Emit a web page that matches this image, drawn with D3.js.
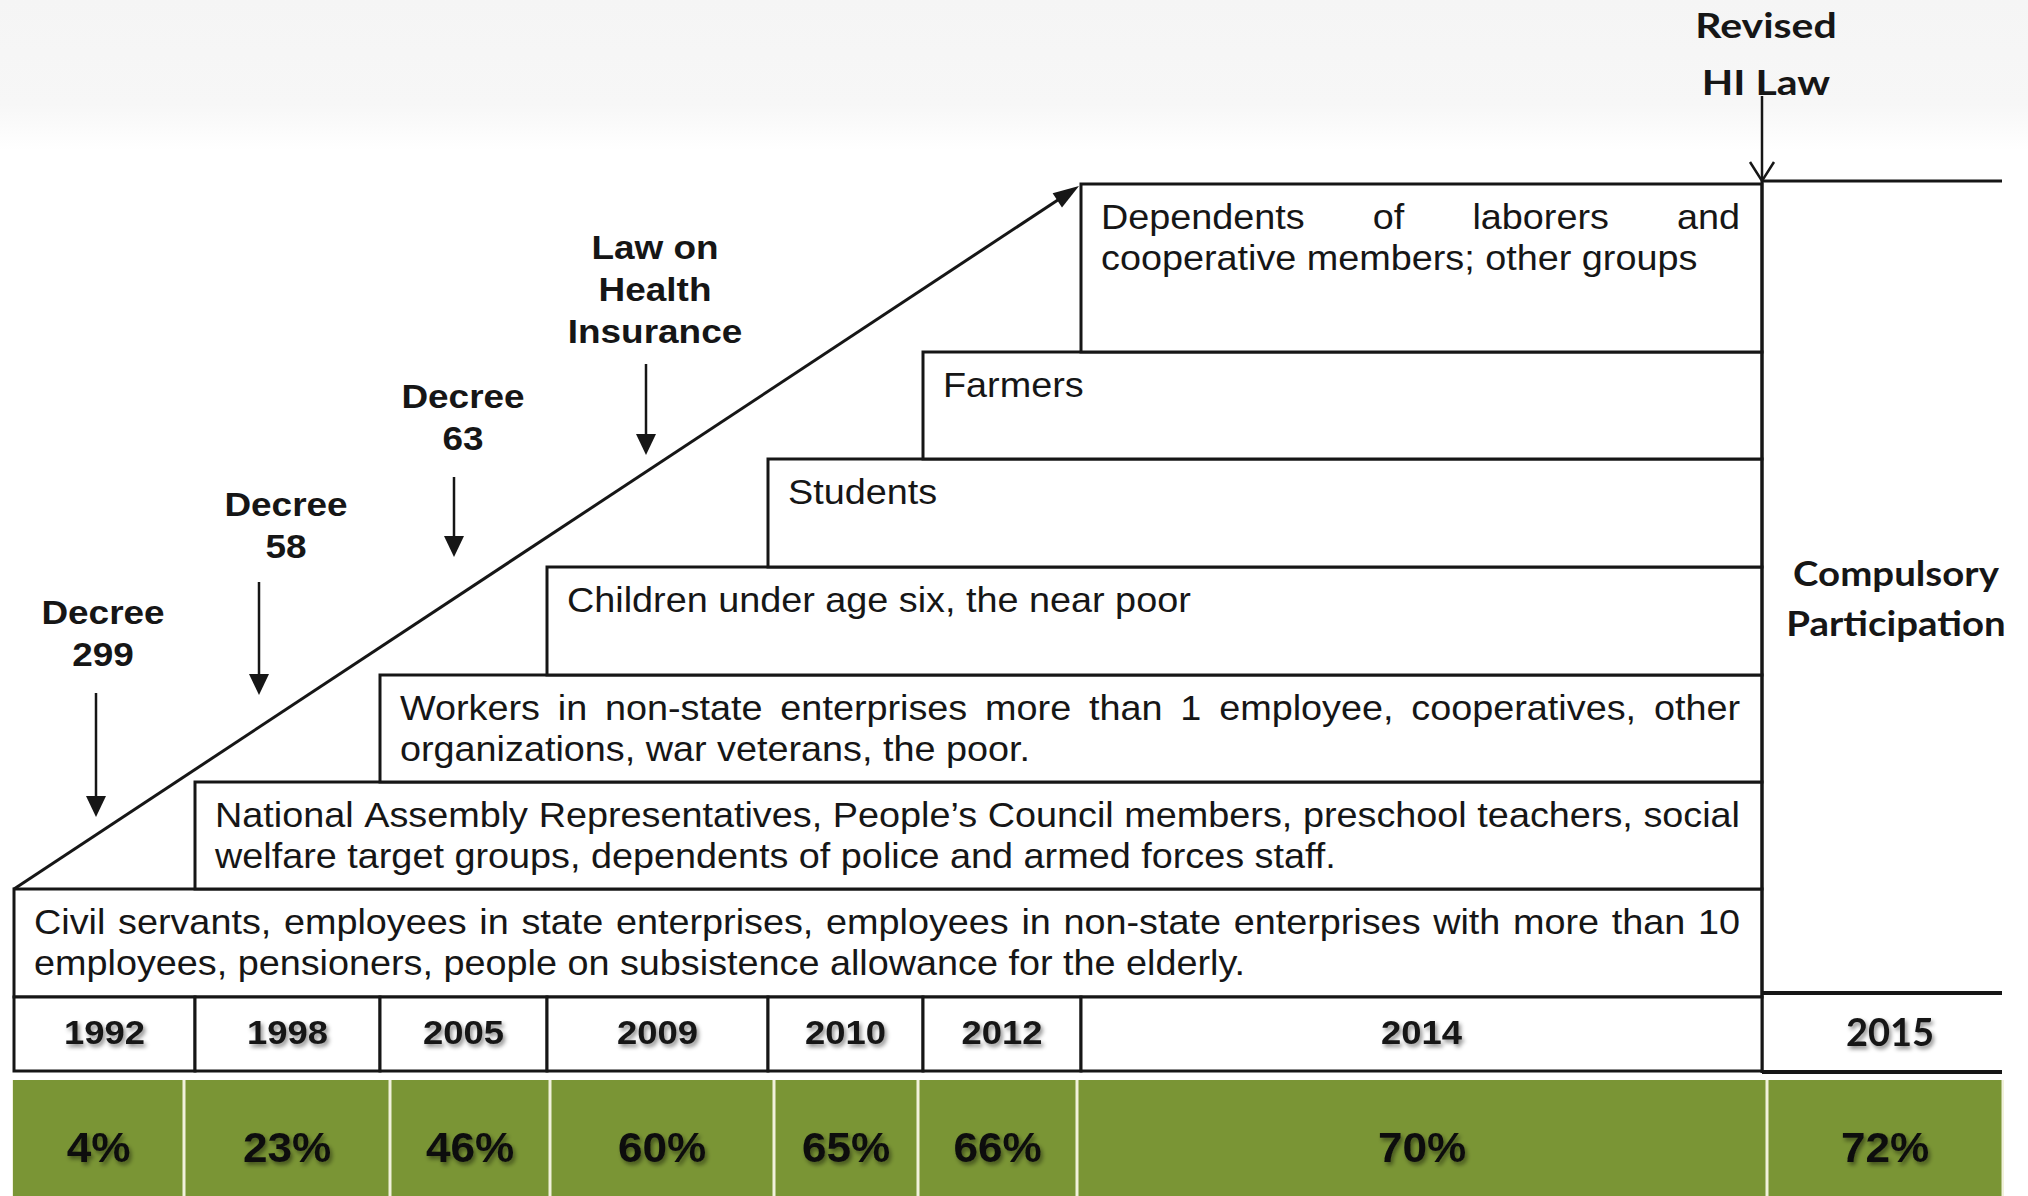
<!DOCTYPE html>
<html><head><meta charset="utf-8">
<script src="https://cdn.jsdelivr.net/npm/d3@7"></script>
<style>html,body{margin:0;padding:0;background:#fff;}svg{display:block}</style>
</head><body>
<svg id="chart" width="2028" height="1196"></svg>
<script>
// ---------------- DATA ----------------
const years = ["1992","1998","2005","2009","2010","2012","2014","2015"];
const coverage = [4,23,46,60,65,66,70,72];
const tierYears = ["1992","1998","2005","2009","2010","2012","2014"];
const tierLines = [
  ["Civil servants, employees in state enterprises, employees in non-state enterprises with more than 10",
   "employees, pensioners, people on subsistence allowance for the elderly."],
  ["National Assembly Representatives, People\u2019s Council members, preschool teachers, social",
   "welfare target groups, dependents of police and armed forces staff."],
  ["Workers in non-state enterprises more than 1 employee, cooperatives, other",
   "organizations, war veterans, the poor."],
  ["Children under age six, the near poor"],
  ["Students"],
  ["Farmers"],
  ["Dependents of laborers and",
   "cooperative members; other groups"]
];
const eventYears = ["1992","1998","2005","2009"];
const eventLabels = [["Decree","299"],["Decree","58"],["Decree","63"],["Law on","Health","Insurance"]];
const revisedLabel = ["Revised","HI Law"];
const compulsoryLabel = ["Compulsory","Participation"];

// ---------------- LAYOUT ----------------
const W = 2028, H = 1196;
const colX0 = 14, colWidths = [181,185,167,221,155,158,681,240];
const greenX0 = 13, greenWidths = [171,206,160,224,144,159,690,236];
const baseY = 997, tierHeights = [108,107,107,108,108,107,168];
const yearBottom = 1071, greenTop = 1080;
const eventLayout = [
  {dx:-1.5, base:624, arrowTop:693, tip:817, ax:-8.5},
  {dx:-1.5, base:516, arrowTop:582, tip:695, ax:-28.5},
  {dx:-0.5, base:408, arrowTop:477, tip:557, ax:-9.5},
  {dx:-2.5, base:259, arrowTop:364, tip:455, ax:-11.5}
];
const ARIAL = "'Liberation Sans', Arial, sans-serif";
const CALIBRI = "Lato, 'Open Sans', sans-serif";
const ink = "#161616";

const edges = d3.cumsum([colX0, ...colWidths]);           // column boundaries
const xLeft = d3.scaleOrdinal(years, edges.slice(0, years.length));
const xWidth = d3.scaleOrdinal(years, colWidths);
const gEdges = d3.cumsum([greenX0, ...greenWidths]);
const gLeft = d3.scaleOrdinal(years, gEdges.slice(0, years.length));
const gWidth = d3.scaleOrdinal(years, greenWidths);
const tops = d3.cumsum(tierHeights).map(c => baseY - c);
const yTop = d3.scaleOrdinal(tierYears, tops);
const yH = d3.scaleOrdinal(tierYears, tierHeights);
const tierRight = xLeft("2015");
const rightEnd = edges[edges.length - 1];

const svg = d3.select("#chart");
const defs = svg.append("defs");
const grad = defs.append("linearGradient").attr("id","topband").attr("x1",0).attr("x2",0).attr("y1",0).attr("y2",1);
grad.append("stop").attr("offset","0%").attr("stop-color","#f5f5f5");
grad.append("stop").attr("offset","70%").attr("stop-color","#f7f7f7");
grad.append("stop").attr("offset","100%").attr("stop-color","#ffffff");
const sh = defs.append("filter").attr("id","shadow").attr("x","-20%").attr("y","-30%").attr("width","150%").attr("height","170%");
sh.append("feDropShadow").attr("dx",2).attr("dy",3).attr("stdDeviation",2).attr("flood-color","#000").attr("flood-opacity",0.45);

svg.append("rect").attr("x",0).attr("y",0).attr("width",W).attr("height",150).attr("fill","url(#topband)");

// helpers
function sText(g, str, x, y, o) {
  const t = g.append("text")
    .attr("transform", `translate(${x},${y}) scale(${o.sx||1},1)`)
    .attr("text-anchor", o.anchor || "start")
    .attr("font-family", o.family || ARIAL)
    .attr("font-size", o.size)
    .attr("font-weight", o.weight || "normal")
    .attr("fill", o.fill || ink)
    .text(str);
  if (o.filter) t.attr("filter", o.filter);
  return t;
}
function justified(g, str, x0, x1, y, o) {
  const t = g.append("text")
    .attr("transform", `translate(${x0},${y}) scale(${o.sx},1)`)
    .attr("font-family", ARIAL).attr("font-size", o.size).attr("fill", ink);
  const words = str.split(" ");
  const widths = words.map(w => {
    const s = t.append("tspan").text(w);
    const l = s.node().getComputedTextLength(); s.remove(); return l;
  });
  const avail = (x1 - x0) / o.sx;
  const gap = (avail - d3.sum(widths)) / (words.length - 1);
  let cx = 0;
  words.forEach((w, i) => { t.append("tspan").attr("x", cx).attr("y", 0).text(w); cx += widths[i] + gap; });
}
function arrowFilled(g, x1, y1, x2, y2, len, wid, sw) {
  const a = Math.atan2(y2 - y1, x2 - x1), c = Math.cos(a), s = Math.sin(a);
  const bx = x2 - c * len, by = y2 - s * len;
  g.append("line").attr("x1",x1).attr("y1",y1).attr("x2",bx + c*2).attr("y2",by + s*2)
    .attr("stroke",ink).attr("stroke-width",sw);
  g.append("path").attr("d", `M${x2},${y2}L${bx - s*wid/2},${by + c*wid/2}L${bx + s*wid/2},${by - c*wid/2}Z`)
    .attr("fill",ink);
}

// ---------------- TIERS ----------------
const tierG = svg.append("g");
tierG.selectAll("rect").data(tierYears).join("rect")
  .attr("x", d => xLeft(d)).attr("y", d => yTop(d))
  .attr("width", d => tierRight - xLeft(d)).attr("height", d => yH(d))
  .attr("fill","#fff").attr("stroke",ink).attr("stroke-width",3);

const TX = {size:35, sx:1.08};
tierYears.forEach((yr, i) => {
  const x0 = xLeft(yr) + 20, x1 = tierRight - 22;
  tierLines[i].forEach((ln, j) => {
    const y = yTop(yr) + 45 + j * 41;
    if (j < tierLines[i].length - 1) justified(tierG, ln, x0, x1, y, TX);
    else sText(tierG, ln, x0, y, {size:TX.size, sx:TX.sx});
  });
});

// diagonal arrow
arrowFilled(svg, xLeft("1992"), yTop("1992"), xLeft("2014") - 2, yTop("2014") + 2, 26, 17, 3);

// ---------------- EVENTS ----------------
const evG = svg.append("g");
eventYears.forEach((yr, i) => {
  const L = eventLayout[i], cx = xLeft(yr) + xWidth(yr) / 2;
  eventLabels[i].forEach((s, j) => {
    sText(evG, s, cx + L.dx, L.base + j * 42, {size:33, sx:1.12, weight:"bold", anchor:"middle"});
  });
  arrowFilled(evG, cx + L.ax, L.arrowTop, cx + L.ax, L.tip, 21, 20, 2.5);
});

// ---------------- RIGHT REGION ----------------
const rG = svg.append("g");
rG.append("line").attr("x1",tierRight).attr("x2",tierRight).attr("y1",181).attr("y2",1073).attr("stroke",ink).attr("stroke-width",3);
rG.append("line").attr("x1",tierRight).attr("x2",rightEnd).attr("y1",181).attr("y2",181).attr("stroke",ink).attr("stroke-width",3);
// revised HI law arrow (open head)
rG.append("line").attr("x1",tierRight).attr("x2",tierRight).attr("y1",96).attr("y2",181).attr("stroke",ink).attr("stroke-width",2.5);
rG.append("path").attr("d",`M${tierRight-12},${162}L${tierRight},${181}L${tierRight+12},${162}`)
  .attr("fill","none").attr("stroke",ink).attr("stroke-width",2.5);
const rcx = tierRight + 4;
sText(rG, revisedLabel[0], rcx, 38, {size:35, sx:1.17, weight:"bold", anchor:"middle", family:CALIBRI});
sText(rG, revisedLabel[1], rcx, 95, {size:35, sx:1.17, weight:"bold", anchor:"middle", family:CALIBRI});
const ccx = (tierRight + rightEnd) / 2 + 14;
sText(rG, compulsoryLabel[0], ccx, 586, {size:34, sx:1.13, weight:"bold", anchor:"middle", family:CALIBRI});
sText(rG, compulsoryLabel[1], ccx, 636, {size:34, sx:1.13, weight:"bold", anchor:"middle", family:CALIBRI});

// ---------------- YEAR ROW ----------------
const yrG = svg.append("g");
const tierYearsRow = years.slice(0, -1);
yrG.selectAll("rect").data(tierYearsRow).join("rect")
  .attr("x", d => xLeft(d)).attr("y", baseY).attr("width", d => xWidth(d)).attr("height", yearBottom - baseY)
  .attr("fill","#fff").attr("stroke",ink).attr("stroke-width",3);
yrG.append("line").attr("x1",tierRight).attr("x2",rightEnd).attr("y1",993).attr("y2",993).attr("stroke",ink).attr("stroke-width",4);
yrG.append("line").attr("x1",tierRight).attr("x2",rightEnd).attr("y1",1072).attr("y2",1072).attr("stroke",ink).attr("stroke-width",4);
years.forEach((yr, i) => {
  const cx = xLeft(yr) + xWidth(yr) / 2;
  if (i < years.length - 1)
    sText(yrG, yr, cx, 1044, {size:34, sx:1.07, weight:"bold", anchor:"middle", filter:"url(#shadow)"});
  else
    sText(yrG, yr, cx + 8, 1046, {size:38, sx:1.0, weight:"bold", anchor:"middle", family:CALIBRI, filter:"url(#shadow)"});
});

// ---------------- COVERAGE ROW ----------------
const gG = svg.append("g");
gG.append("rect").attr("x", greenX0 - 1).attr("y", greenTop).attr("width", rightEnd - greenX0 + 3).attr("height", H - greenTop)
  .attr("fill","#f1f1dc");
gG.selectAll("rect.cell").data(years).join("rect").attr("class","cell")
  .attr("x", (d, i) => gLeft(d) + (i ? 1.5 : 0)).attr("y", greenTop)
  .attr("width", (d, i) => gWidth(d) - (i ? 1.5 : 0) - 1.5).attr("height", H - greenTop)
  .attr("fill","#7a9535");
years.forEach((yr, i) => {
  const cx = gLeft(yr) + gWidth(yr) / 2;
  sText(gG, coverage[i] + "%", cx, 1162, {size:42, sx:1.05, weight:"bold", anchor:"middle", fill:"#111", filter:"url(#shadow)"});
});
</script>
</body></html>
